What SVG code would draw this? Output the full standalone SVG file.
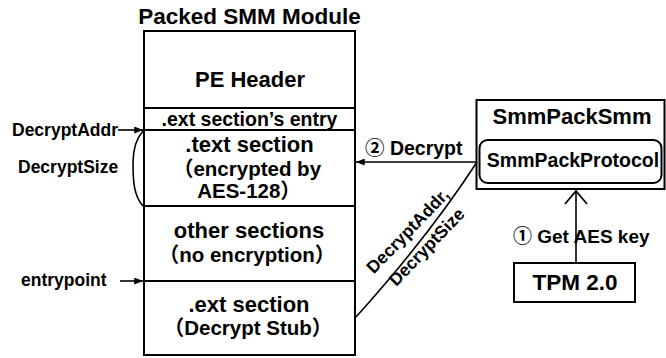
<svg xmlns="http://www.w3.org/2000/svg" width="666" height="358" viewBox="0 0 666 358">
<defs>
<style>
text{font-family:"Liberation Sans","Noto Sans CJK JP",sans-serif;font-weight:bold;fill:#000;}
.c{text-anchor:middle;}
.box{fill:none;stroke:#000;stroke-width:2;}
.ln{fill:none;stroke:#000;stroke-width:1.6;}
.f22{font-size:22px;}
.f20{font-size:20.5px;}
.lab{font-size:17.5px;}
</style>
<marker id="ah" viewBox="0 0 10 8" refX="10" refY="4" markerWidth="9" markerHeight="7" orient="auto" markerUnits="userSpaceOnUse">
<path d="M0,0 L10,4 L0,8 Z" fill="#000"/>
</marker>
<marker id="open" viewBox="0 0 24 16" refX="12" refY="1" markerWidth="24" markerHeight="16" orient="0" markerUnits="userSpaceOnUse">
<path d="M1,14 L12,1 L23,14" fill="none" stroke="#000" stroke-width="1.8"/>
</marker>
</defs>
<rect width="666" height="358" fill="#fff"/>

<g id="packed-module">
<text class="c" x="249.5" y="24" style="font-size:22.5px">Packed SMM Module</text>
<rect class="box" x="144" y="31" width="211" height="324"/>
<line class="box" x1="144" y1="108" x2="355" y2="108"/>
<line class="box" x1="144" y1="130" x2="355" y2="130"/>
<line class="box" x1="144" y1="206" x2="355" y2="206"/>
<line class="box" x1="144" y1="281" x2="355" y2="281"/>
</g>

<g id="pe-header">
<text class="c f22" x="250" y="87">PE Header</text>
</g>
<g id="ext-entry">
<text class="c" x="249.5" y="126" style="font-size:19.5px">.ext section’s entry</text>
</g>
<g id="text-section">
<text class="c f22" x="249.5" y="152">.text section</text>
<text class="c f20" x="247" y="176">（encrypted by</text>
<text class="c f20" x="249" y="198">AES-128）</text>
</g>
<g id="other-sections">
<text class="c f22" x="249" y="238">other sections</text>
<text class="c f20" x="247" y="262">（no encryption）</text>
</g>
<g id="ext-section">
<text class="c f22" x="249" y="312">.ext section</text>
<text class="c f20" x="248" y="335">（Decrypt Stub）</text>
</g>

<g id="labels">
<text class="lab" x="12" y="136">DecryptAddr</text>
<text class="lab" x="18" y="173">DecryptSize</text>
<text class="lab" x="21" y="286">entrypoint</text>
</g>

<g id="smmpacksmm">
<rect class="box" x="476.5" y="100" width="188" height="89"/>
<text class="c f22" x="572" y="124">SmmPackSmm</text>
</g>
<g id="smmpackprotocol">
<rect class="box" x="479.5" y="140" width="182" height="43" rx="8"/>
<text class="c" x="573" y="167" style="font-size:19.5px">SmmPackProtocol</text>
</g>
<g id="tpm">
<rect class="box" x="514" y="263" width="121" height="39"/>
<text class="c" x="575" y="290" style="font-size:22.5px">TPM 2.0</text>
</g>

<g id="connectors">
<line class="ln" x1="118" y1="130" x2="143" y2="130" marker-end="url(#ah)"/>
<line class="ln" x1="120" y1="281" x2="143" y2="281" marker-end="url(#ah)"/>
<path class="ln" d="M143,131 C135,140 133,150 133,163 C133,182 134,196 143,206"/>
<line class="ln" x1="477" y1="162" x2="356" y2="162" marker-end="url(#ah)"/>
<path class="ln" d="M356,317 Q429,236 477,162"/>
<line class="ln" x1="576" y1="263" x2="576" y2="191" marker-end="url(#open)"/>
<text x="365" y="155" style="font-size:19.5px">② Decrypt</text>
<text x="513" y="243" style="font-size:19px">① Get AES key</text>
<text class="c" transform="translate(412,235) rotate(-46)" style="font-size:17.5px">DecryptAddr,</text>
<text class="c" transform="translate(431,251) rotate(-46)" style="font-size:17.5px">DecryptSize</text>
</g>
</svg>
